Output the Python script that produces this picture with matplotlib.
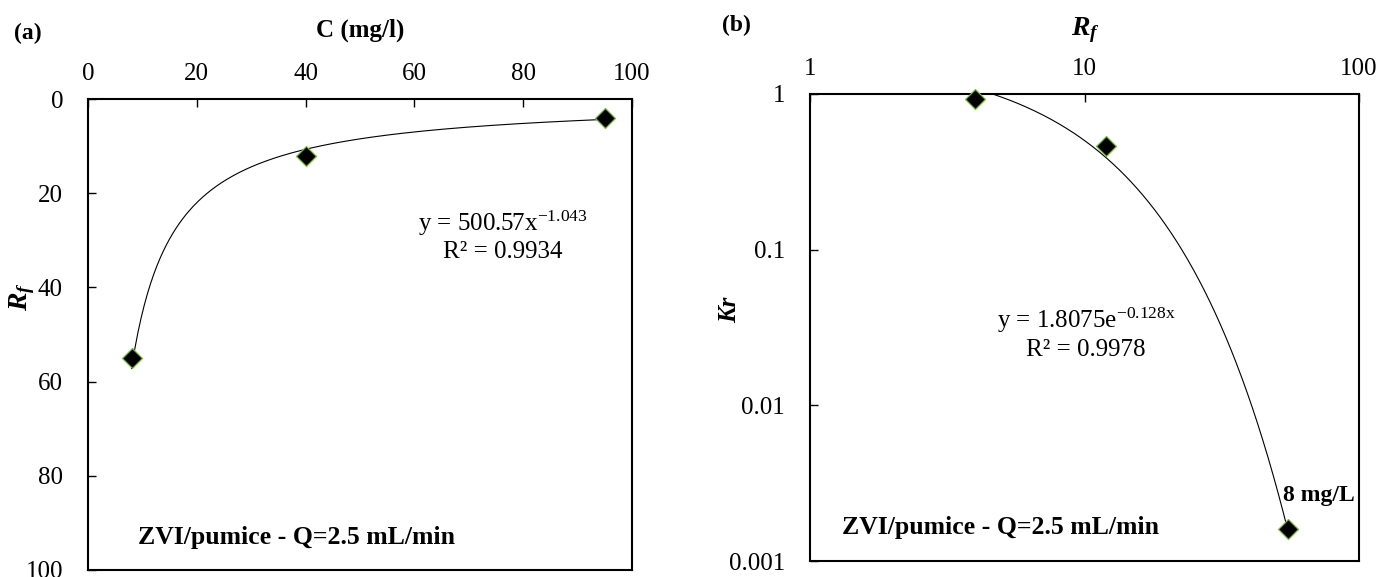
import matplotlib
matplotlib.use('Agg')
import matplotlib.pyplot as plt
import numpy as np

plt.rcParams['font.family'] = ['Liberation Serif', 'DejaVu Serif']
plt.rcParams['mathtext.fontset'] = 'custom'
plt.rcParams['mathtext.rm'] = 'Liberation Serif'
plt.rcParams['mathtext.it'] = 'Liberation Serif:italic'
plt.rcParams['mathtext.bf'] = 'Liberation Serif:bold'
plt.rcParams['mathtext.bfit'] = 'Liberation Serif:bold:italic'

# panel (a): concentration vs retardation factor
conc = [8, 40, 95]
rf_a = [55, 12, 4]
pow_a, pow_b = 500.57, -1.043

# panel (b): retardation factor vs Kr
rf_b = [4, 12, 55]
kr = [0.93, 0.46, 0.0016]
exp_a, exp_b = 1.8075, -0.128

xticks_a = [0, 20, 40, 60, 80, 100]
yticks_a = [0, 20, 40, 60, 80, 100]
xticks_b = [1, 10, 100]
xlabels_b = ['1', '10', '100']
yticks_b = [0.001, 0.01, 0.1, 1]
ylabels_b = ['0.001', '0.01', '0.1', '1']

W, H = 1379, 577
fig = plt.figure(figsize=(W / 100, H / 100), dpi=100)

mk = dict(marker='D', ms=10, mfc='black', mec='#7dbb42', mew=0.9,
          linestyle='none', clip_on=False, zorder=5)

# ---- (a)
ax1 = fig.add_axes([88 / W, 7 / H, 544 / W, 471 / H])
xs = np.linspace(min(conc), max(conc), 300)
ax1.plot(xs, pow_a * xs ** pow_b, color='black', lw=0.8)
ax1.plot(conc, rf_a, **mk)
ax1.set_xlim(0, 100)
ax1.set_ylim(100, 0)
ax1.set_xticks(xticks_a)
ax1.set_yticks(yticks_a)
ax1.xaxis.tick_top()
ax1.tick_params(direction='in', length=6, width=1, labelsize=18)
ax1.tick_params(axis='x', pad=10)
ax1.tick_params(axis='y', pad=18)
for s in ax1.spines.values():
    s.set_linewidth(1.5)
ax1.text(0.763, 0.737, r'y = 500.57x$^{-1.043}$', transform=ax1.transAxes,
         ha='center', va='center', fontsize=18)
ax1.text(0.763, 0.675, 'R² = 0.9934', transform=ax1.transAxes,
         ha='center', va='center', fontsize=18)
ax1.text(0.092, 0.068, 'ZVI/pumice - Q=2.5 mL/min', transform=ax1.transAxes,
         ha='left', va='center', fontsize=18.5, fontweight='bold')

fig.text(14 / W, 1 - 33 / H, '(a)', ha='left', va='center', fontsize=17, fontweight='bold')
fig.text(360 / W, 1 - 30 / H, 'C (mg/l)', ha='center', va='center', fontsize=18, fontweight='bold')
fig.text(22 / W, 1 - 297 / H, r'$\mathbfit{R}_{\mathbfit{f}}$', ha='center', va='center',
         rotation=90, fontsize=20)

# ---- (b)
ax2 = fig.add_axes([810 / W, 16 / H, 549 / W, 467 / H])
xs = np.linspace(min(rf_b), max(rf_b), 300)
ax2.plot(xs, exp_a * np.exp(exp_b * xs), color='black', lw=0.8)
ax2.plot(rf_b, kr, **mk)
ax2.set_xscale('log')
ax2.set_yscale('log')
ax2.set_xlim(1, 100)
ax2.set_ylim(0.001, 1)
ax2.set_xticks(xticks_b, xlabels_b)
ax2.set_yticks(yticks_b, ylabels_b)
ax2.minorticks_off()
ax2.xaxis.tick_top()
ax2.tick_params(direction='in', length=6, width=1, labelsize=18)
ax2.tick_params(axis='x', pad=10)
ax2.tick_params(axis='y', pad=18)
for s in ax2.spines.values():
    s.set_linewidth(1.5)
ax2.text(0.503, 0.516, r'y = 1.8075e$^{-0.128\mathrm{x}}$', transform=ax2.transAxes,
         ha='center', va='center', fontsize=18)
ax2.text(0.503, 0.452, 'R² = 0.9978', transform=ax2.transAxes,
         ha='center', va='center', fontsize=18)
ax2.text(0.058, 0.071, 'ZVI/pumice - Q=2.5 mL/min', transform=ax2.transAxes,
         ha='left', va='center', fontsize=18.5, fontweight='bold')
ax2.text(0.862, 0.141, '8 mg/L', transform=ax2.transAxes,
         ha='left', va='center', fontsize=17, fontweight='bold')

fig.text(722 / W, 1 - 25 / H, '(b)', ha='left', va='center', fontsize=17, fontweight='bold')
fig.text(1085 / W, 1 - 30 / H, r'$\mathbfit{R}_{\mathbfit{f}}$', ha='center', va='center', fontsize=20)
fig.text(730 / W, 1 - 310 / H, 'Kr', ha='center', va='center', rotation=90,
         fontsize=18, fontweight='bold', fontstyle='italic')

fig.savefig('out.png', dpi=100)
